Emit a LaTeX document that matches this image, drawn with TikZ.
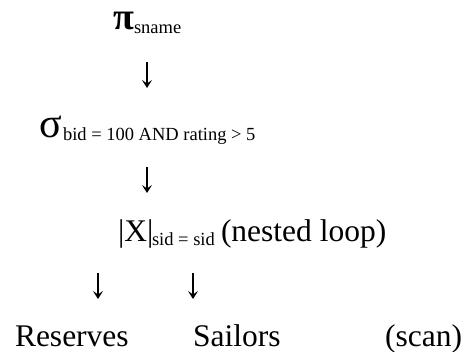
\documentclass[tikz,border=0pt]{standalone}
\usepackage{fontspec}
\setmainfont{Liberation Serif}
\usetikzlibrary{arrows.meta}
\begin{document}
\begin{tikzpicture}[x=1pt,y=-1pt,
  every node/.style={inner sep=0pt,outer sep=0pt},
  main/.style={font=\fontsize{31.5}{36}\selectfont,anchor=base west},
  sub/.style={font=\fontsize{18.5}{22}\selectfont,anchor=base west},
  flow/.style={line width=1.3pt,-{Stealth[length=8pt,width=10pt,inset=3.5pt]}}]
\useasboundingbox (0,0) rectangle (470,352);
% projection
\node[anchor=base west,font=\fontsize{38}{42}\selectfont\bfseries] (pi) at (113,30) {π};
\node[sub] (pisub) at (134,34) {sname};
\coordinate (a1s) at (147,62);
\coordinate (a1e) at (147,88);
\draw[flow] (a1s) -- (a1e);
% selection
\node[anchor=base west,font=\fontsize{42}{48}\selectfont] (sigma) at (39,138) {σ};
\node[sub] (sigsub) at (63,141) {bid = 100 AND rating > 5};
\coordinate (a2s) at (147,167);
\coordinate (a2e) at (147,193);
\draw[flow] (a2s) -- (a2e);
% join
\node[main] (join) at (118,241) {|X|};
\node[sub] (joinsub) at (152,245) {sid = sid};
\node[main] (nl) at (221,241) {(nested loop)};
\coordinate (a3s) at (98,273);
\coordinate (a3e) at (98,299);
\coordinate (a4s) at (193,273);
\coordinate (a4e) at (193,299);
\draw[flow] (a3s) -- (a3e);
\draw[flow] (a4s) -- (a4e);
% leaves
\node[main] (res) at (15,346) {Reserves};
\node[main] (sail) at (193,346) {Sailors};
\node[main,anchor=base east] (scan) at (462,346) {(scan)};
\end{tikzpicture}
\end{document}
